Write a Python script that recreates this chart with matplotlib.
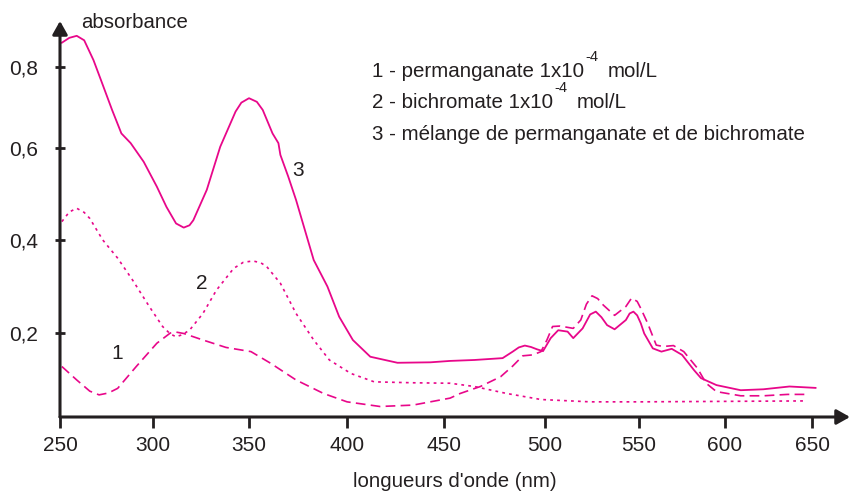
import numpy as np
import matplotlib
matplotlib.use('Agg')
import matplotlib.pyplot as plt

plt.rcParams['font.family'] = 'Liberation Sans'
plt.rcParams['lines.scale_dashes'] = False

# 1 - permanganate
wl_perm = [251, 259, 266, 271, 276, 281, 291, 302, 309, 312, 316, 326, 338, 351, 361, 374,
           388, 400, 417, 434, 453, 458, 468, 478, 484, 489, 494, 498, 501, 504, 508, 515,
           519, 522, 525, 528, 531, 537, 543, 546, 549, 551, 555, 560, 564, 570, 576, 584,
           589, 595, 609, 622, 636, 647]
abs_perm = [0.128, 0.099, 0.075, 0.067, 0.071, 0.081, 0.128, 0.178, 0.200, 0.202, 0.199,
            0.185, 0.169, 0.160, 0.135, 0.099, 0.070, 0.052, 0.042, 0.045, 0.060, 0.070,
            0.085, 0.106, 0.129, 0.151, 0.153, 0.160, 0.185, 0.214, 0.215, 0.210, 0.228,
            0.262, 0.280, 0.274, 0.260, 0.238, 0.257, 0.275, 0.268, 0.253, 0.221, 0.174,
            0.171, 0.173, 0.160, 0.124, 0.092, 0.074, 0.065, 0.065, 0.068, 0.068]

# 2 - bichromate
wl_bich = [251, 255, 259, 263, 266, 273, 281, 289, 298, 305, 309, 312, 315, 319, 326, 333,
           342, 347, 352, 356, 359, 366, 374, 383, 391, 402, 414, 434, 453, 465, 481, 498,
           524, 551, 647]
abs_bich = [0.440, 0.461, 0.469, 0.460, 0.447, 0.400, 0.361, 0.314, 0.257, 0.214, 0.198,
            0.192, 0.196, 0.206, 0.242, 0.292, 0.339, 0.352, 0.355, 0.351, 0.343, 0.307,
            0.242, 0.185, 0.142, 0.113, 0.095, 0.093, 0.092, 0.085, 0.070, 0.057, 0.052,
            0.052, 0.054]

# 3 - melange
wl_mix = [251, 255, 259, 263, 268, 272, 278, 283, 288, 295, 302, 307, 312, 316, 319, 321,
          328, 335, 343, 346, 350, 354, 357, 362, 365, 366, 370, 374, 378, 383, 390, 396,
          403, 412, 426, 443, 453, 465, 479, 484, 487, 490, 493, 496, 499, 503, 507, 512,
          515, 520, 524, 527, 530, 533, 537, 543, 545, 547, 549, 551, 553, 558, 563, 569,
          575, 582, 586, 595, 609, 622, 637, 652]
abs_mix = [0.860, 0.872, 0.877, 0.866, 0.817, 0.768, 0.694, 0.636, 0.612, 0.570, 0.516,
           0.472, 0.436, 0.427, 0.432, 0.443, 0.509, 0.603, 0.690, 0.712, 0.723, 0.714,
           0.694, 0.636, 0.612, 0.585, 0.538, 0.487, 0.429, 0.357, 0.300, 0.235, 0.185,
           0.149, 0.136, 0.137, 0.140, 0.142, 0.146, 0.160, 0.169, 0.173, 0.170, 0.165,
           0.161, 0.189, 0.206, 0.203, 0.189, 0.210, 0.240, 0.246, 0.234, 0.217, 0.208,
           0.228, 0.242, 0.246, 0.238, 0.221, 0.199, 0.167, 0.160, 0.166, 0.153, 0.120,
           0.103, 0.088, 0.077, 0.079, 0.085, 0.082]

xticks = [250, 300, 350, 400, 450, 500, 550, 600, 650]
yticks = [0.2, 0.4, 0.6, 0.8]
ytick_labels = ['0,2', '0,4', '0,6', '0,8']

# the hand-drawn axes are not evenly graduated -> piecewise scale
scale_nm = [200, 250, 300, 350, 400, 450, 500, 550, 600, 650, 700]
scale_xpos = [-33, 60, 153, 249, 347, 444, 545, 639, 725, 812, 899]
scale_a = [0.0, 0.2, 0.4, 0.6, 0.8, 1.0]
scale_ypos = [66, 159, 252, 344, 425, 506]


def fx(v):
    return np.interp(v, scale_nm, scale_xpos)


def fx_inv(p):
    return np.interp(p, scale_xpos, scale_nm)


def fy(v):
    return np.interp(v, scale_a, scale_ypos)


def fy_inv(p):
    return np.interp(p, scale_ypos, scale_a)


pink = '#e8078a'
dark = '#231f20'

fig = plt.figure(figsize=(8.51, 4.92), dpi=100)
ax = fig.add_axes([60 / 851, 75 / 492, 790 / 851, 396 / 492])
ax.set_xscale('function', functions=(fx, fx_inv))
ax.set_yscale('function', functions=(fy, fy_inv))

ax.plot(wl_perm, abs_perm, color=pink, lw=1.2, dashes=(7, 3.8))
ax.plot(wl_bich, abs_bich, color=pink, lw=1.2, dashes=(2, 3))
ax.plot(wl_mix, abs_mix, color=pink, lw=1.3, solid_joinstyle='round')

ax.set_xlim(250, 671.8)
ax.set_ylim(0.0194, 0.9136)

for s in ax.spines.values():
    s.set_visible(False)

arrow = dict(arrowstyle='-|>,head_length=0.8,head_width=0.45', color=dark, lw=2.2,
             shrinkA=0, shrinkB=0, mutation_scale=10)
ax.annotate('', xy=(0, 1), xytext=(0, 0), xycoords='axes fraction', arrowprops=arrow,
            annotation_clip=False)
ax.annotate('', xy=(1, 0), xytext=(0, 0), xycoords='axes fraction', arrowprops=arrow,
            annotation_clip=False)

ax.set_xticks(xticks)
ax.set_xticklabels([str(t) for t in xticks])
ax.set_yticks(yticks)
ax.set_yticklabels(ytick_labels)
ax.minorticks_off()
ax.tick_params(axis='x', direction='out', length=8, width=2, color=dark, pad=6,
               labelsize=15, labelcolor=dark)
ax.tick_params(axis='y', direction='inout', length=7, width=2, color=dark, pad=12.5,
               labelsize=15, labelcolor=dark)

ax.set_xlabel("longueurs d'onde (nm)", fontsize=14.7, color=dark, labelpad=12)
fig.text(81 / 851, 1 - 28 / 492, 'absorbance', fontsize=14.7, color=dark, va='baseline')

ax.text(280.6, 0.157, '1', fontsize=15, color=dark, ha='center', va='center')
ax.text(325.5, 0.307, '2', fontsize=15, color=dark, ha='center', va='center')
ax.text(375, 0.552, '3', fontsize=15, color=dark, ha='center', va='center')

# legend block, with the raised "-4" drawn as its own small text
legend_main = ['1 - permanganate 1x10', '2 - bichromate 1x10',
               '3 - mélange de permanganate et de bichromate']
legend_sup = ['-4', '-4', '']
legend_end = ['mol/L', 'mol/L', '']
for i in range(3):
    t1 = fig.text(372 / 851, 1 - (77 + 31.5 * i) / 492, legend_main[i], fontsize=14.8,
                  color=dark, va='baseline')
    if legend_sup[i]:
        t2 = ax.annotate(legend_sup[i], xy=(1, 0), xycoords=t1, xytext=(1, 12.5),
                         textcoords='offset points', fontsize=10.5, color=dark,
                         va='bottom', annotation_clip=False)
        ax.annotate(legend_end[i], xy=(1, 0), xycoords=(t2, t1), xytext=(6.5, 0),
                    textcoords='offset points', fontsize=14.8, color=dark,
                    va='bottom', annotation_clip=False)

fig.savefig('out.png', dpi=100)
